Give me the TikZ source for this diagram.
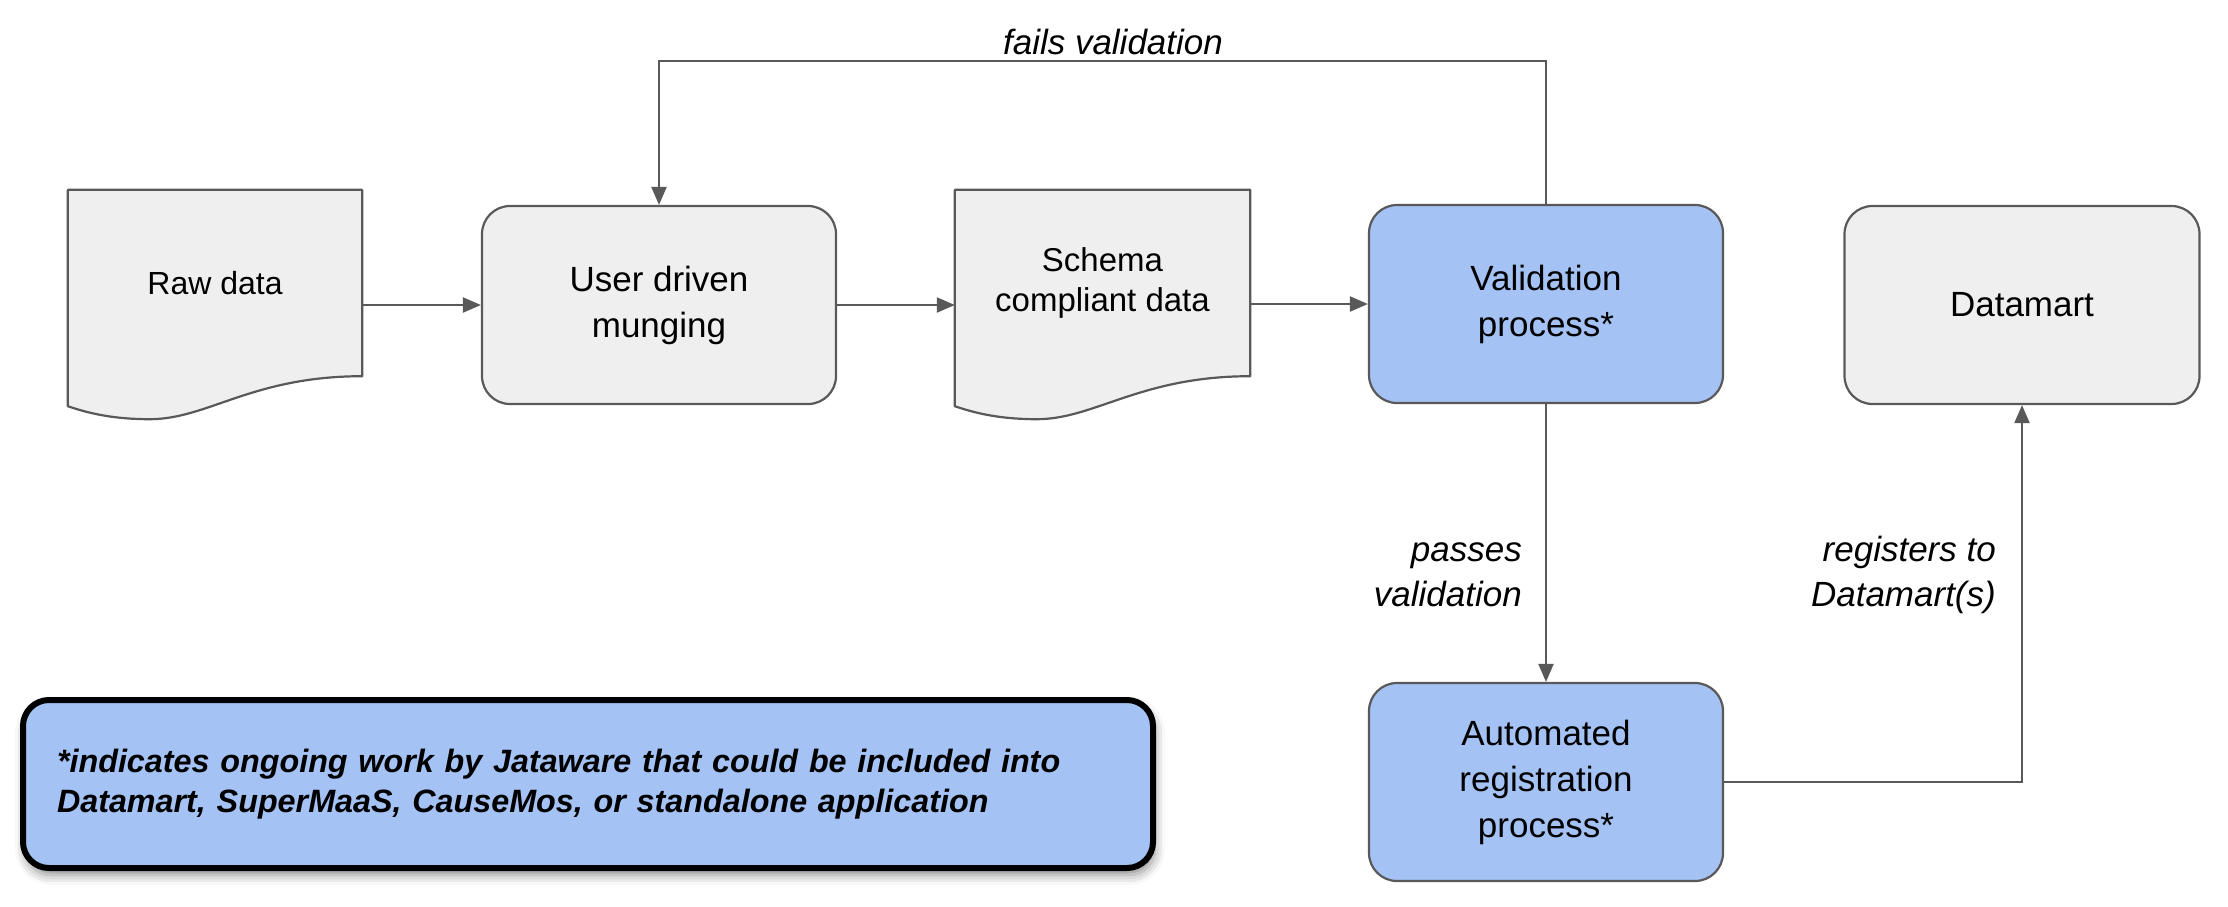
\documentclass[tikz,border=0pt]{standalone}
\usepackage{fontspec}
\setmainfont{Liberation Sans}
\usetikzlibrary{arrows.meta,calc,shadows.blur}
\definecolor{lineg}{HTML}{595959}
\definecolor{fillg}{HTML}{EFEFEF}
\definecolor{fillb}{HTML}{A4C2F4}
\pgfdeclarelayer{bg}
\pgfsetlayers{bg,main}
\tikzset{
  procbox/.style={draw=lineg, line width=2.2pt, rounded corners=28pt, minimum width=354pt, minimum height=198pt, align=center, font=\fontsize{35}{46}\selectfont, inner sep=0pt},
  greybox/.style={procbox, fill=fillg},
  bluebox/.style={procbox, fill=fillb},
  docbody/.style={minimum width=294pt, minimum height=186pt, align=center, inner sep=0pt},
  docline/.style={draw=lineg, line width=2.2pt, fill=fillg, line join=round},
  conn/.style={draw=lineg, line width=2.2pt, -{Triangle[length=18pt,width=15pt]}},
  lbl/.style={font=\fontsize{35}{45}\selectfont\itshape, align=right, inner sep=0pt},
  notestyle/.style={draw=black, line width=6pt, fill=fillb, rounded corners=26pt, minimum width=1130pt, minimum height=168pt, text width=1062pt, inner xsep=34pt, inner ysep=0pt, align=left, font=\fontsize{32.3}{40}\selectfont\bfseries\itshape, blur shadow={shadow xshift=2pt, shadow yshift=-7pt, shadow blur radius=10pt, shadow opacity=45}}
}
\newcommand\docwave[1]{%
  \path[docline] (#1.north west) -- (#1.north east) -- (#1.south east)
   .. controls ($(#1.south east)+(-110,0)$) and ($(#1.south west)+(140,-43)$) .. ($(#1.south west)+(82,-43)$)
   .. controls ($(#1.south west)+(40,-43)$) and ($(#1.south west)+(15,-35)$) .. ($(#1.south west)+(0,-30)$) -- cycle;}
\begin{document}
\begin{tikzpicture}[x=1pt,y=1pt]
\useasboundingbox (0,0) rectangle (2228,-906);
% nodes
\node[docbody, font=\fontsize{32}{40}\selectfont] (raw) at (215,-283) {Raw data};
\node[greybox] (user) at (659,-305) {User driven\\munging};
\node[docbody, minimum width=295pt, font=\fontsize{33}{40}\selectfont] (schema) at (1102.5,-283) {Schema\\compliant data};
\node[bluebox] (valid) at (1546,-304) {Validation\\process*};
\node[greybox, minimum width=355pt] (dmart) at (2022,-305) {Datamart};
\node[bluebox] (auto) at (1546,-782) {Automated\\registration\\process*};
\node[notestyle] (note) at (588,-784) {*indicates ongoing work by Jataware that could be included into\\Datamart, SuperMaaS, CauseMos, or standalone application};
\begin{pgfonlayer}{bg}
  \docwave{raw}
  \docwave{schema}
\end{pgfonlayer}
% connectors
\draw[conn] (raw.east |- user.west) -- (user.west);
\draw[conn] (user.east) -- (user.east -| schema.west);
\draw[conn] (valid.west -| schema.east) -- (valid.west);
\draw[conn] (valid.south) -- (auto.north);
\draw[conn] (auto.east) -| (dmart.south);
\coordinate (looptop) at (1102,-61);
\draw[conn] (valid.north) |- (looptop) -| (user.north);
% labels
\node[lbl, anchor=center] (lfail) at (1113,-42) {fails validation};
\node[lbl, anchor=east] (lpass) at (1522,-575) {passes\\validation};
\node[lbl, anchor=east] (lreg) at (1996,-575) {registers to\\Datamart(s)};
\end{tikzpicture}
\end{document}
